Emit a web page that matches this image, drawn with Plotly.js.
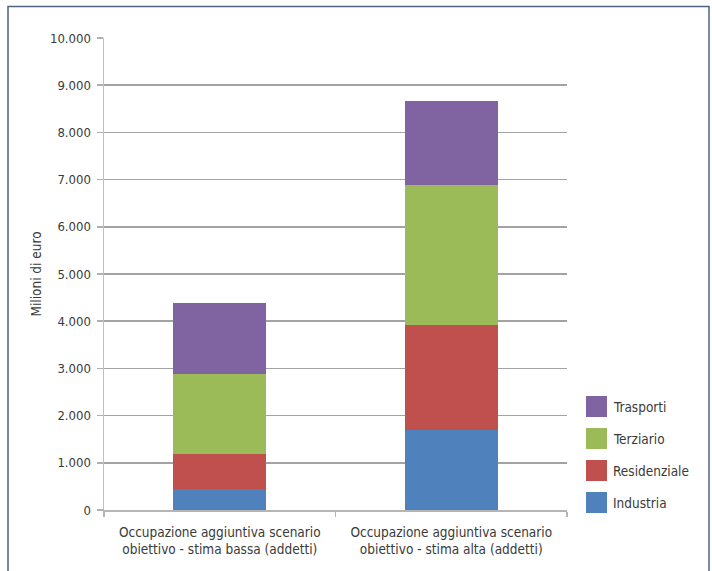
<!DOCTYPE html>
<html>
<head>
<meta charset="utf-8">
<script src="https://cdn.plot.ly/plotly-3.0.1.min.js"></script>
<style>
  html, body { margin: 0; padding: 0; background: #ffffff; }
  #chart { width: 712px; height: 571px; }
</style>
</head>
<body>
<div id="chart"></div>
<script>
// Scenario categories (x axis)
const categories = [
  "Occupazione aggiuntiva scenario<br>obiettivo - stima bassa (addetti)",
  "Occupazione aggiuntiva scenario<br>obiettivo - stima alta (addetti)"
];

// Stacked series, bottom to top (milioni di euro)
const industria    = [440, 1690];
const residenziale = [740, 2235];
const terziario    = [1710, 2970];
const trasporti    = [1490, 1770];

const seriesNames  = ["Industria", "Residenziale", "Terziario", "Trasporti"];
const seriesValues = [industria, residenziale, terziario, trasporti];
const seriesColors = ["#4F81BD", "#C0504D", "#9BBB59", "#8064A2"];

const yTicks = [0, 1000, 2000, 3000, 4000, 5000, 6000, 7000, 8000, 9000, 10000];

const W = 712, H = 571;
const margin = { l: 104, r: 145, t: 38, b: 61, pad: 0 };
const plotW = W - margin.l - margin.r;
const plotH = H - margin.t - margin.b;
const FONT = '"DejaVu Sans Condensed", "DejaVu Sans", sans-serif';
const TEXT = "#3a3a3a";

// pixel -> paper helpers for frame and legend placement
const px = x => (x - margin.l) / plotW;
const py = y => (H - margin.b - y) / plotH;

const traces = seriesNames.map((name, i) => ({
  type: "bar",
  name: name,
  x: categories,
  y: seriesValues[i],
  marker: { color: seriesColors[i], line: { width: 0 } },
  hoverinfo: "name+y",
  showlegend: false
}));

const shapes = [
  // outer frame
  {
    type: "rect", xref: "paper", yref: "paper",
    x0: px(8), x1: px(709), y0: py(6.5), y1: py(580),
    line: { color: "#4d6384", width: 1.5 }, fillcolor: "rgba(0,0,0,0)"
  }
];
const annotations = [];

// legend: top entry is the last stacked series
const legendOrder = seriesNames.map((_, i) => i).reverse();
legendOrder.forEach((idx, k) => {
  const top = 396 + k * 32;
  shapes.push({
    type: "rect", xref: "paper", yref: "paper",
    x0: px(586), x1: px(607), y0: py(top + 21), y1: py(top),
    line: { width: 0 }, fillcolor: seriesColors[idx]
  });
  annotations.push({
    xref: "paper", yref: "paper",
    x: px(611), y: py(top + 10.5),
    xanchor: "left", yanchor: "middle",
    text: seriesNames[idx], showarrow: false,
    font: { family: FONT, size: 13.5, color: TEXT }
  });
});

const layout = {
  width: W, height: H,
  margin: margin,
  paper_bgcolor: "#ffffff",
  plot_bgcolor: "#ffffff",
  barmode: "stack",
  bargap: 0.6,
  separators: ",.",
  showlegend: false,
  font: { family: FONT, size: 13, color: TEXT },
  xaxis: {
    type: "category",
    range: [-0.5, 1.5],
    automargin: false,
    tickangle: 0,
    showline: true, linecolor: "#b5b5b5", linewidth: 1.5,
    ticks: "outside", tickson: "boundaries", ticklen: 5,
    tickcolor: "#b5b5b5", tickwidth: 1.5,
    ticklabelstandoff: 9,
    showgrid: false, zeroline: false,
    tickfont: { family: FONT, size: 13.5, color: TEXT }
  },
  yaxis: {
    range: [0, 10000],
    automargin: false,
    tickvals: yTicks,
    tickformat: ",d",
    showline: true, linecolor: "#c0c0c0", linewidth: 1.5,
    ticks: "outside", ticklen: 6, tickcolor: "#b0b0b0", tickwidth: 1.5,
    ticklabelstandoff: 3,
    showgrid: true, gridcolor: "#a3a3a3", gridwidth: 1.5,
    zeroline: false,
    tickfont: { family: FONT, size: 13, color: TEXT },
    title: { text: "Milioni di euro", standoff: 5, font: { family: FONT, size: 13.5, color: TEXT } }
  },
  shapes: shapes,
  annotations: annotations
};

Plotly.newPlot("chart", traces, layout, { displayModeBar: false, staticPlot: true });
</script>
</body>
</html>
